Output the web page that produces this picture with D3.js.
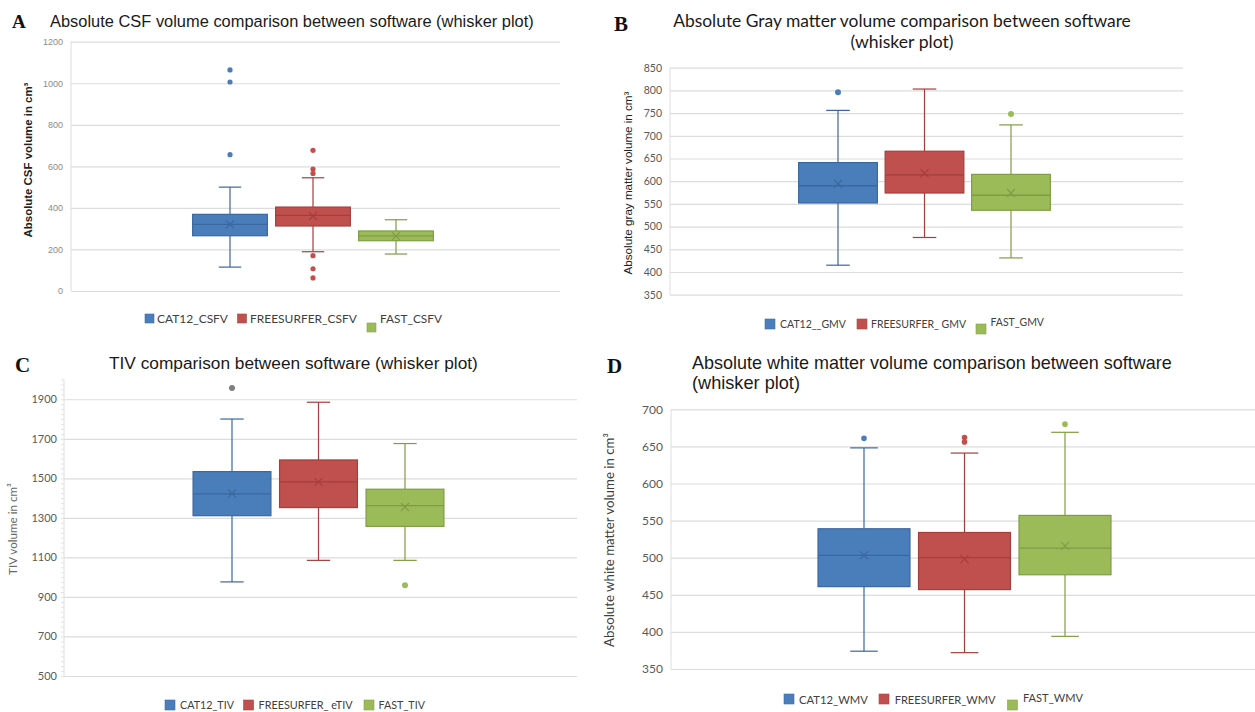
<!DOCTYPE html>
<html><head><meta charset="utf-8">
<script src="https://cdn.jsdelivr.net/npm/d3@7"></script>
<style>html,body{margin:0;padding:0;background:#fff;} svg{display:block}</style>
</head><body>
<svg id="chart" width="1255" height="712"></svg>
<script>
// ---------------- DATA ----------------
// Panel A – CSF
const csfSeries = ["CAT12_CSFV", "FREESURFER_CSFV", "FAST_CSFV"];
const csfMin = [115, 189, 178];
const csfQ1 = [266, 313, 242];
const csfMedian = [321, 364, 265];
const csfQ3 = [369, 404, 289];
const csfMax = [500, 545, 343];
const csfMean = [321, 361, 264];
const csfOutliers = [[1064, 1006, 656], [677, 587, 566, 170, 107, 63], []];
const csfTicks = [0, 200, 400, 600, 800, 1000, 1200];

// Panel B – Gray matter
const gmvSeries = ["CAT12__GMV", "FREESURFER_ GMV", "FAST_GMV"];
const gmvMin = [415, 476, 431];
const gmvQ1 = [552, 574, 536];
const gmvMedian = [590, 614, 569];
const gmvQ3 = [641, 666, 615];
const gmvMax = [756, 803, 724];
const gmvMean = [594, 618, 574];
const gmvOutliers = [[796], [], [748]];
const gmvTicks = [350, 400, 450, 500, 550, 600, 650, 700, 750, 800, 850];

// Panel C – TIV
const tivSeries = ["CAT12_TIV", "FREESURFER_ eTIV", "FAST_TIV"];
const tivMin = [976, 1085, 1085];
const tivQ1 = [1311, 1352, 1257];
const tivMedian = [1421, 1482, 1362];
const tivQ3 = [1534, 1593, 1445];
const tivMax = [1800, 1885, 1676];
const tivMean = [1424, 1482, 1355];
const tivOutliers = [[1957], [], [959]];
const tivTicks = [500, 700, 900, 1100, 1300, 1500, 1700, 1900];

// Panel D – White matter
const wmvSeries = ["CAT12_WMV", "FREESURFER_WMV", "FAST_WMV"];
const wmvMin = [374, 372, 394];
const wmvQ1 = [461, 457, 477];
const wmvMedian = [503, 500, 513];
const wmvQ3 = [539, 534, 557];
const wmvMax = [648, 641, 669];
const wmvMean = [503, 498, 516];
const wmvOutliers = [[661], [662, 656], [680]];
const wmvTicks = [350, 400, 450, 500, 550, 600, 650, 700];

// ---------------- STYLE ----------------
const fills = ["#4a7ebb", "#c0504d", "#9bbb59"];
const darks = ["#3a679e", "#a23f3c", "#7f9c45"];
const svg = d3.select("#chart");

function fit(t, w) {
  const cur = t.node().getComputedTextLength();
  const fs = parseFloat(t.attr("font-size"));
  if (cur > 0) t.attr("font-size", (fs * w / cur).toFixed(2));
  return t;
}

function drawPanel(p) {
  const g = svg.append("g");
  const y = d3.scaleLinear().domain(p.domain).range([p.bottom, p.top]);
  const x = d3.scaleBand().domain(p.series)
    .range([p.center - p.groupW / 2, p.center + p.groupW / 2])
    .paddingInner(p.pad).paddingOuter(p.pad / 2);

  // gridlines
  g.append("g").attr("transform", `translate(${p.left},0)`)
    .call(d3.axisLeft(y).tickValues(p.ticks).tickSize(-(p.right - p.left)).tickFormat(""))
    .call(s => { s.select(".domain").remove(); s.selectAll("line").attr("stroke", "#dcdcdc").attr("stroke-width", 1.2); });

  // left axis line
  g.append("line").attr("x1", p.left).attr("x2", p.left)
    .attr("y1", y(p.domain[1])).attr("y2", y(p.domain[0]))
    .attr("stroke", "#dedede").attr("stroke-width", 1);

  if (p.minor) {
    const mt = d3.range(p.domain[0], p.domain[1] + 1, p.minor);
    g.append("g").attr("transform", `translate(${p.left},0)`)
      .call(d3.axisLeft(y).tickValues(mt).tickSize(3).tickFormat(""))
      .call(s => { s.select(".domain").remove(); s.selectAll("line").attr("stroke", "#e2e2e2"); });
  }

  // tick labels
  g.append("g").attr("transform", `translate(${p.left},0)`)
    .call(d3.axisLeft(y).tickValues(p.ticks).tickSize(0).tickPadding(p.tickPad).tickFormat(d3.format("d")))
    .call(s => {
      s.select(".domain").remove();
      s.selectAll("text").attr("font-family", p.tickFont).attr("font-size", p.tickSize)
        .attr("fill", p.tickColor);
    });

  // boxes
  p.series.forEach((s, i) => {
    const bw = x.bandwidth(), x0 = x(s), cx = x0 + bw / 2, cap = bw * 0.3;
    const col = fills[i], dk = darks[i];
    const wg = g.append("g").attr("stroke", dk).attr("stroke-width", 1.2).attr("fill", "none");
    wg.append("line").attr("x1", cx).attr("x2", cx).attr("y1", y(p.max[i])).attr("y2", y(p.q3[i]));
    wg.append("line").attr("x1", cx).attr("x2", cx).attr("y1", y(p.q1[i])).attr("y2", y(p.min[i]));
    wg.append("line").attr("x1", cx - cap / 2).attr("x2", cx + cap / 2).attr("y1", y(p.max[i])).attr("y2", y(p.max[i]));
    wg.append("line").attr("x1", cx - cap / 2).attr("x2", cx + cap / 2).attr("y1", y(p.min[i])).attr("y2", y(p.min[i]));
    g.append("rect").attr("x", x0).attr("width", bw)
      .attr("y", y(p.q3[i])).attr("height", y(p.q1[i]) - y(p.q3[i]))
      .attr("fill", col).attr("stroke", dk).attr("stroke-width", 1.2);
    g.append("line").attr("x1", x0).attr("x2", x0 + bw)
      .attr("y1", y(p.median[i])).attr("y2", y(p.median[i]))
      .attr("stroke", dk).attr("stroke-width", 1.3);
    const my = y(p.mean[i]), r = 4;
    g.append("path").attr("d", `M${cx - r},${my - r}L${cx + r},${my + r}M${cx - r},${my + r}L${cx + r},${my - r}`)
      .attr("stroke", dk).attr("stroke-width", 1.1).attr("fill", "none");
    g.selectAll(null).data(p.outliers[i]).enter().append("circle")
      .attr("cx", cx).attr("cy", d => y(d)).attr("r", p.dotR)
      .attr("fill", (p.outColors && p.outColors[i]) || col);
  });
}

function legend(items) {
  items.forEach(it => {
    svg.append("rect").attr("x", it.sx).attr("y", it.sy).attr("width", it.ss).attr("height", it.ss)
      .attr("fill", it.c).attr("stroke", d3.color(it.c).darker(0.4)).attr("stroke-width", 0.6);
    const t = svg.append("text").attr("x", it.tx).attr("y", it.ty).text(it.t)
      .attr("font-family", "Lato, 'Liberation Sans', sans-serif").attr("font-size", 12).attr("fill", "#404040");
    fit(t, it.w);
  });
}

function text(x, y, s, font, size, opts = {}) {
  const t = svg.append("text").attr("x", x).attr("y", y).text(s)
    .attr("font-family", font).attr("font-size", size)
    .attr("fill", opts.fill || "#1a1a1a");
  if (opts.weight) t.attr("font-weight", opts.weight);
  if (opts.anchor) t.attr("text-anchor", opts.anchor);
  if (opts.rotate) t.attr("transform", `rotate(-90,${x},${y})`);
  if (opts.w) fit(t, opts.w);
  return t;
}

const ARIAL = "'Liberation Sans', Arial, sans-serif";
const CALI = "Lato, 'Liberation Sans', sans-serif";
const SERIF = "'Liberation Serif', 'Times New Roman', serif";

// ---------------- PANEL A ----------------
drawPanel({
  series: csfSeries, min: csfMin, q1: csfQ1, median: csfMedian, q3: csfQ3, max: csfMax, mean: csfMean,
  outliers: csfOutliers, ticks: csfTicks, domain: [0, 1200],
  left: 71, right: 560, top: 41.7, bottom: 291, center: 313, groupW: 249, pad: 0.1,
  tickFont: ARIAL, tickSize: 9, tickColor: "#8a8a8a", tickPad: 8, dotR: 2.6
});
text(12, 28, "A", SERIF, 19, { weight: "bold", fill: "#111" });
text(50, 27, "Absolute CSF volume comparison between software (whisker plot)", ARIAL, 16, { w: 484 });
text(32, 160, "Absolute  CSF volume in cm³", ARIAL, 10, { weight: "bold", anchor: "middle", rotate: true, w: 155, fill: "#222" });
legend([
  { sx: 145, sy: 314, ss: 9, c: fills[0], tx: 157, ty: 323, t: csfSeries[0], w: 71 },
  { sx: 237.5, sy: 314, ss: 9, c: fills[1], tx: 250, ty: 323, t: csfSeries[1], w: 107 },
  { sx: 367, sy: 323, ss: 9, c: fills[2], tx: 380, ty: 323, t: csfSeries[2], w: 62 }
]);

// ---------------- PANEL B ----------------
drawPanel({
  series: gmvSeries, min: gmvMin, q1: gmvQ1, median: gmvMedian, q3: gmvQ3, max: gmvMax, mean: gmvMean,
  outliers: gmvOutliers, ticks: gmvTicks, domain: [350, 850],
  left: 670, right: 1183, top: 67.7, bottom: 294.7, center: 924.5, groupW: 259.5, pad: 0.09,
  tickFont: CALI, tickSize: 10.5, tickColor: "#595959", tickPad: 8, dotR: 3
});
text(614, 31, "B", SERIF, 21, { weight: "bold", fill: "#111" });
text(902, 27, "Absolute Gray matter volume comparison between software", CALI, 17, { anchor: "middle", w: 458 });
text(902, 48, "(whisker plot)", CALI, 17, { anchor: "middle", w: 103 });
text(632, 183, "Absolute gray matter volume in cm³", ARIAL, 12, { anchor: "middle", rotate: true, w: 183, fill: "#222" });
legend([
  { sx: 765, sy: 319, ss: 10, c: fills[0], tx: 780, ty: 328, t: gmvSeries[0], w: 66 },
  { sx: 857, sy: 319, ss: 10, c: fills[1], tx: 871, ty: 328, t: gmvSeries[1], w: 95 },
  { sx: 976, sy: 324, ss: 10, c: fills[2], tx: 990.5, ty: 326, t: gmvSeries[2], w: 53.5 }
]);

// ---------------- PANEL C ----------------
drawPanel({
  series: tivSeries, min: tivMin, q1: tivQ1, median: tivMedian, q3: tivQ3, max: tivMax, mean: tivMean,
  outliers: tivOutliers, outColors: ["#7f7f7f", null, null], ticks: tivTicks, domain: [500, 2000],
  left: 64, right: 577, top: 379.5, bottom: 676, center: 318.5, groupW: 259.5, pad: 0.1, minor: 25,
  tickFont: CALI, tickSize: 11, tickColor: "#595959", tickPad: 7, dotR: 3
});
text(15, 372, "C", SERIF, 21, { weight: "bold", fill: "#111" });
text(109, 369, "TIV comparison between software (whisker plot)", ARIAL, 17, { w: 369 });
text(17, 529, "TIV  volume in cm³", CALI, 11, { anchor: "middle", rotate: true, w: 92, fill: "#6a6a6a" });
legend([
  { sx: 165, sy: 700, ss: 10, c: fills[0], tx: 180, ty: 709, t: tivSeries[0], w: 54 },
  { sx: 243.6, sy: 700, ss: 10, c: fills[1], tx: 258.6, ty: 709, t: tivSeries[1], w: 94 },
  { sx: 364, sy: 700, ss: 10, c: fills[2], tx: 378.6, ty: 709, t: tivSeries[2], w: 46.4 }
]);

// ---------------- PANEL D ----------------
drawPanel({
  series: wmvSeries, min: wmvMin, q1: wmvQ1, median: wmvMedian, q3: wmvQ3, max: wmvMax, mean: wmvMean,
  outliers: wmvOutliers, ticks: wmvTicks, domain: [350, 700],
  left: 671, right: 1258, top: 409.3, bottom: 669, center: 964.5, groupW: 301.5, pad: 0.085,
  tickFont: CALI, tickSize: 12, tickColor: "#595959", tickPad: 8, dotR: 2.8
});
text(607, 373, "D", SERIF, 21, { weight: "bold", fill: "#111" });
text(692, 369, "Absolute white matter volume comparison between software", ARIAL, 17, { w: 480 });
text(692, 389, "(whisker plot)", ARIAL, 17, { w: 108 });
text(614, 540, "Absolute white matter volume in cm³", CALI, 12, { anchor: "middle", rotate: true, w: 214, fill: "#404040" });
legend([
  { sx: 784, sy: 694, ss: 10, c: fills[0], tx: 799, ty: 704, t: wmvSeries[0], w: 69 },
  { sx: 879, sy: 694, ss: 10, c: fills[1], tx: 894.7, ty: 704, t: wmvSeries[1], w: 101 },
  { sx: 1007.5, sy: 700, ss: 10, c: fills[2], tx: 1023, ty: 702, t: wmvSeries[2], w: 60 }
]);
</script>
</body></html>
